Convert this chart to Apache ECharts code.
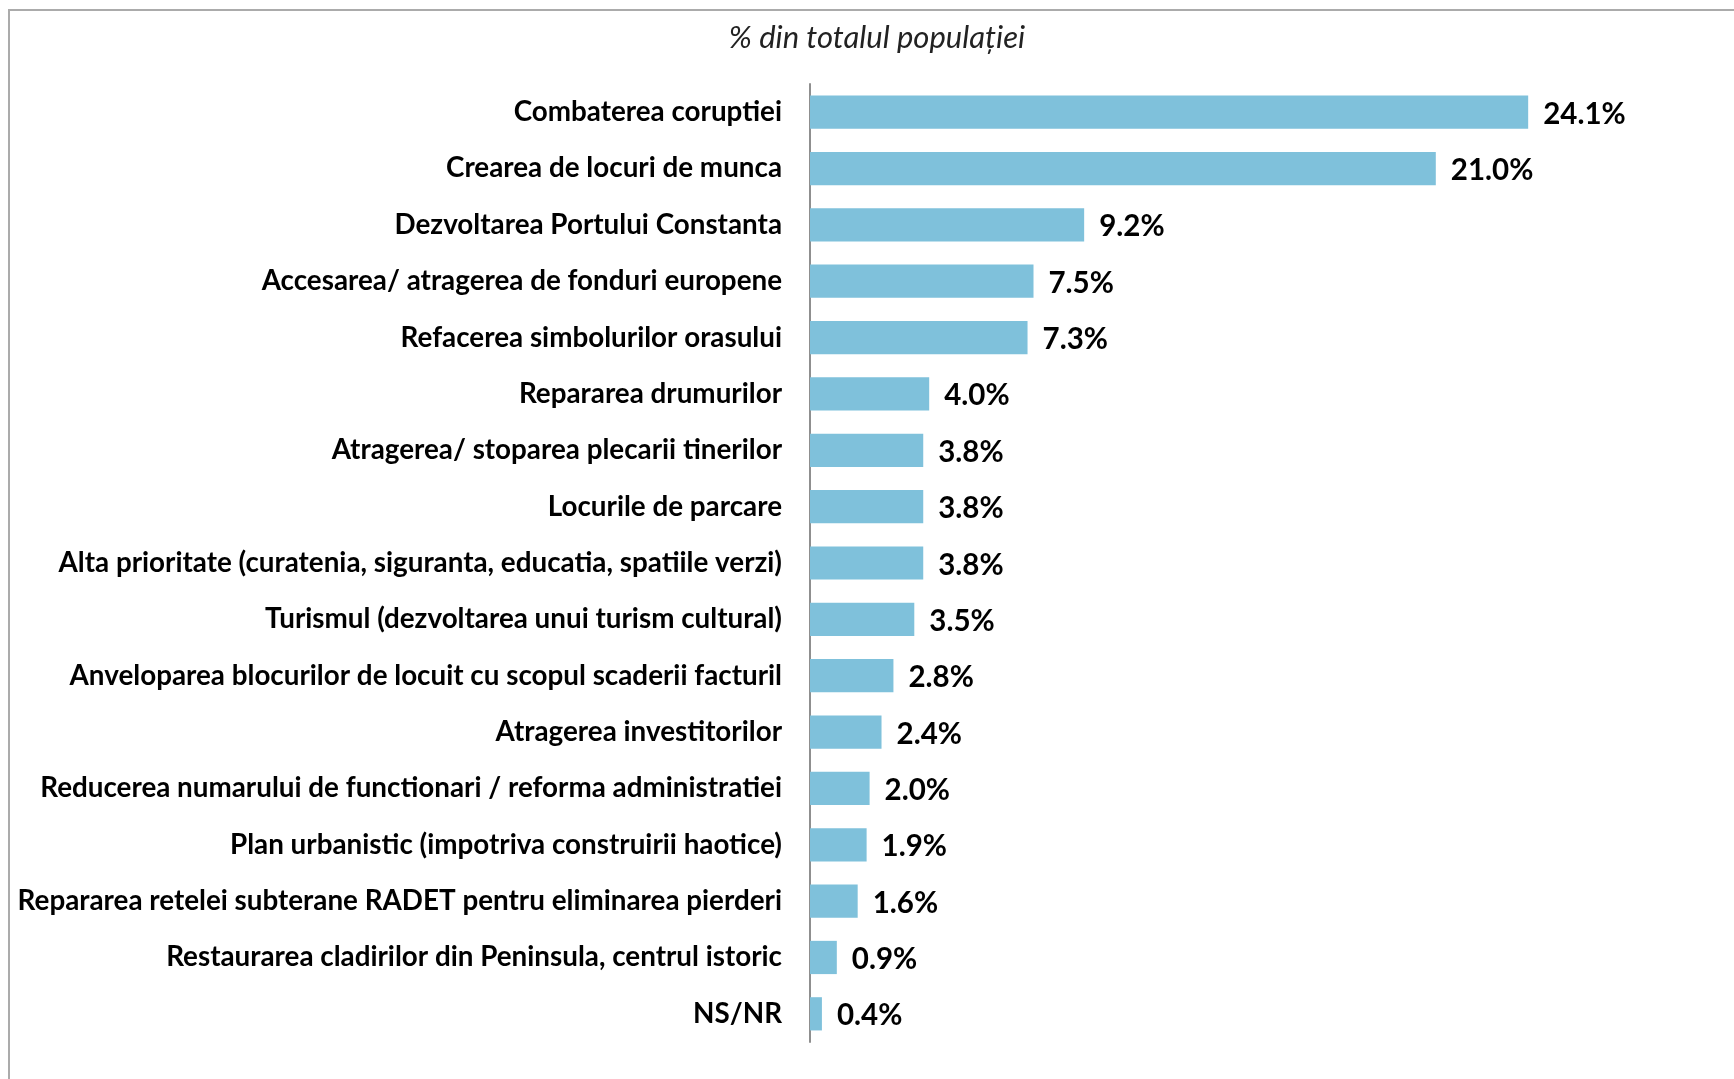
<!DOCTYPE html>
<html>
<head>
<meta charset="utf-8">
<script src="https://cdn.jsdelivr.net/npm/echarts@6/dist/echarts.min.js"></script>
<style>
  html, body { margin: 0; padding: 0; background: #fff; }
  #chart { width: 1734px; height: 1079px; }
</style>
</head>
<body>
<div id="chart"></div>
<script>
  // categorii si procente, de sus in jos
  const categories = [
    'Combaterea coruptiei',
    'Crearea de locuri de munca',
    'Dezvoltarea Portului Constanta',
    'Accesarea/ atragerea de fonduri europene',
    'Refacerea simbolurilor orasului',
    'Repararea drumurilor',
    'Atragerea/ stoparea plecarii tinerilor',
    'Locurile de parcare',
    'Alta prioritate (curatenia, siguranta, educatia, spatiile verzi)',
    'Turismul (dezvoltarea unui turism cultural)',
    'Anveloparea blocurilor de locuit cu scopul scaderii facturil',
    'Atragerea investitorilor',
    'Reducerea numarului de functionari / reforma administratiei',
    'Plan urbanistic (impotriva construirii haotice)',
    'Repararea retelei subterane RADET pentru eliminarea pierderi',
    'Restaurarea cladirilor din Peninsula, centrul istoric',
    'NS/NR'
  ];
  const values = [24.1, 21.0, 9.2, 7.5, 7.3, 4.0, 3.8, 3.8, 3.8, 3.5, 2.8, 2.4, 2.0, 1.9, 1.6, 0.9, 0.4];
  const titleText = '% din totalul populației';

  let chart = echarts.init(document.getElementById('chart'));

  let option = {
    animation: false,
    title: {
      text: titleText,
      left: 872,
      top: 17,
      textAlign: 'center',
      textStyle: {
        fontFamily: 'Lato',
        fontStyle: 'italic',
        fontWeight: 'normal',
        fontSize: 31,
        color: '#222'
      }
    },
    graphic: [
      { type: 'line', shape: { x1: 8, y1: 10, x2: 1734, y2: 10 }, style: { stroke: '#ababab', lineWidth: 2 } },
      { type: 'line', shape: { x1: 9, y1: 10, x2: 9, y2: 1079 }, style: { stroke: '#ababab', lineWidth: 2 } }
    ],
    grid: {
      left: 810,
      top: 84,
      width: 894,
      height: 958,
      containLabel: false
    },
    xAxis: {
      type: 'value',
      min: 0,
      max: 30,
      show: false
    },
    yAxis: {
      type: 'category',
      data: categories,
      inverse: true,
      axisLine: { show: true, lineStyle: { color: '#8f8f8f', width: 2 } },
      axisTick: { show: false },
      axisLabel: {
        margin: 28,
        fontFamily: 'Lato',
        fontWeight: 'bold',
        fontSize: 27.8,
        color: '#000'
      }
    },
    series: [
      {
        type: 'bar',
        data: values,
        barCategoryGap: '41%',
        itemStyle: { color: '#7fc1db' },
        label: {
          show: true,
          position: 'right',
          distance: 15,
          offset: [0, 2],
          fontFamily: 'Lato',
          fontWeight: 'bold',
          fontSize: 29.5,
          color: '#000',
          formatter: function (p) {
            return p.value.toFixed(1) + '%';
          }
        }
      }
    ]
  };

  chart.setOption(option);
</script>
</body>
</html>
